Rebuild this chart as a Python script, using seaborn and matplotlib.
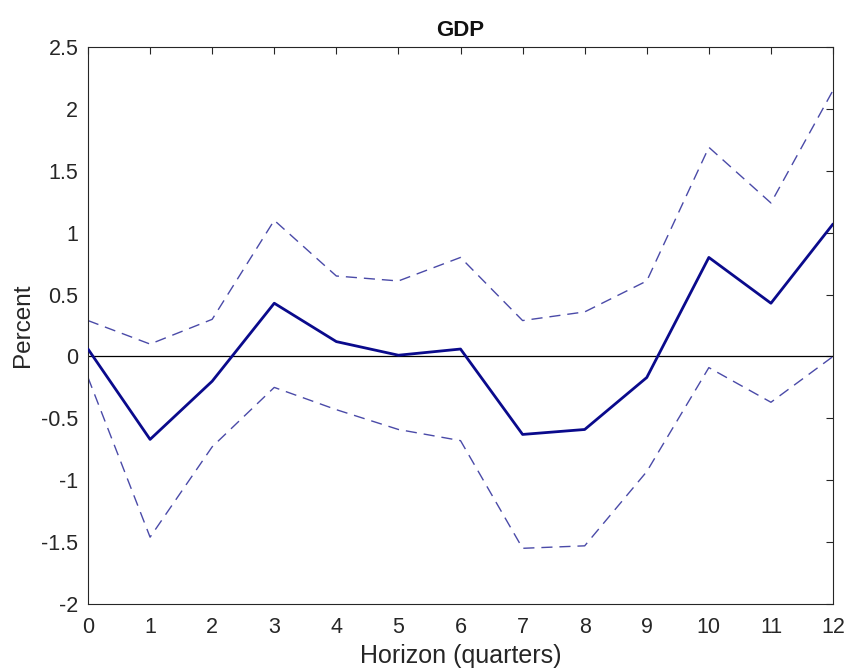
import matplotlib
matplotlib.use("Agg")
import matplotlib.pyplot as plt
import seaborn as sns
import pandas as pd

horizon = list(range(13))
irf = [0.06, -0.67, -0.20, 0.43, 0.12, 0.01, 0.06, -0.63, -0.59, -0.17, 0.80, 0.43, 1.07]
upper = [0.29, 0.10, 0.30, 1.10, 0.65, 0.61, 0.80, 0.29, 0.36, 0.61, 1.69, 1.24, 2.15]
lower = [-0.17, -1.46, -0.73, -0.25, -0.43, -0.59, -0.68, -1.55, -1.53, -0.93, -0.09, -0.37, 0.00]
yticks = [-2, -1.5, -1, -0.5, 0, 0.5, 1, 1.5, 2, 2.5]
ytick_labels = ["-2", "-1.5", "-1", "-0.5", "0", "0.5", "1", "1.5", "2", "2.5"]

sns.set_theme(style="white")
plt.rcParams["font.family"] = ["Liberation Sans", "DejaVu Sans"]

df = pd.DataFrame({"h": horizon, "irf": irf, "upper": upper, "lower": lower})

fig = plt.figure(figsize=(8.47, 6.68), dpi=100)
ax = fig.add_axes([0.1039, 0.0958, 0.8796, 0.8338])

ax.axhline(0, color="black", lw=0.9, zorder=1)
sns.lineplot(data=df, x="h", y="upper", ax=ax, color="#4a4aa8", lw=1.0,
             linestyle=(0, (8, 5)), zorder=2)
sns.lineplot(data=df, x="h", y="lower", ax=ax, color="#4a4aa8", lw=1.0,
             linestyle=(0, (8, 5)), zorder=2)
sns.lineplot(data=df, x="h", y="irf", ax=ax, color="#0a0a8c", lw=2.0, zorder=3)

ax.set_xlim(0, 12)
ax.set_ylim(-2, 2.5)
ax.set_xticks(horizon)
ax.set_xticklabels([str(h) for h in horizon])
ax.set_yticks(yticks)
ax.set_yticklabels(ytick_labels)

ax.tick_params(axis="both", which="both", direction="in", length=5, width=0.8,
               labelsize=15.5, colors="#262626", top=True, right=True,
               labelcolor="#262626")
ax.tick_params(axis="x", pad=9)
ax.tick_params(axis="y", pad=7)
for s in ax.spines.values():
    s.set_color("#262626")
    s.set_linewidth(0.8)

ax.set_title("GDP", fontsize=16, fontweight="bold", color="#111111", pad=8)
ax.set_xlabel("Horizon (quarters)", fontsize=18, color="#262626", labelpad=5)
ax.set_ylabel("Percent", fontsize=17.5, color="#262626", labelpad=5)

fig.savefig("out.png", dpi=100)
